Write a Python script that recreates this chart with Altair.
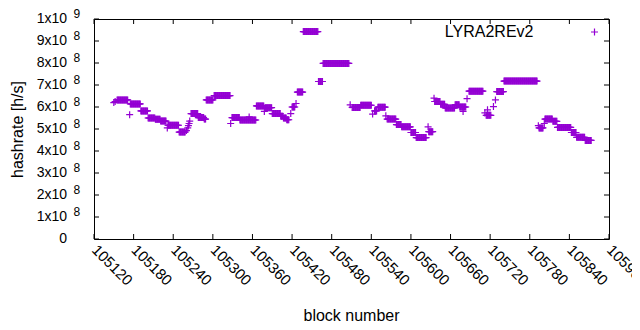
import altair as alt
import pandas as pd

# runs of constant hashrate (block start, block end, value in units of 1e8 h/s)
seg_start = [105150, 105152, 105155, 105174, 105175, 105191, 105202, 105213, 105221, 105231,
             105232, 105249, 105260, 105262, 105263, 105264, 105265, 105267, 105278, 105287,
             105290, 105302, 105327, 105329, 105341, 105355, 105366, 105378, 105379, 105390,
             105403, 105407, 105412, 105418, 105420, 105426, 105428, 105437, 105460, 105467,
             105508, 105511, 105524, 105542, 105545, 105550, 105562, 105564, 105578, 105586,
             105600, 105608, 105626, 105627, 105635, 105636, 105645, 105652, 105667, 105674,
             105679, 105685, 105688, 105712, 105716, 105714, 105725, 105728, 105730, 105741,
             105793, 105794, 105802, 105803, 105815, 105822, 105843, 105851, 105864]
seg_end = [105150, 105152, 105171, 105174, 105190, 105201, 105212, 105220, 105229, 105231,
           105248, 105258, 105260, 105262, 105263, 105264, 105265, 105277, 105286, 105289,
           105300, 105326, 105327, 105340, 105365, 105355, 105377, 105378, 105389, 105402,
           105406, 105411, 105415, 105418, 105424, 105426, 105436, 105459, 105466, 105506,
           105508, 105523, 105540, 105542, 105548, 105561, 105562, 105577, 105585, 105599,
           105607, 105623, 105626, 105633, 105635, 105644, 105651, 105666, 105673, 105683,
           105679, 105685, 105709, 105712, 105716, 105721, 105725, 105728, 105740, 105791,
           105793, 105800, 105802, 105814, 105821, 105842, 105850, 105863, 105873]
seg_val = [6.20, 6.25, 6.32, 5.65, 6.14, 5.82, 5.50, 5.44, 5.36, 5.05,
           5.17, 4.86, 4.93, 5.05, 5.15, 5.25, 5.36, 5.70, 5.52, 5.45,
           6.32, 6.52, 5.25, 5.52, 5.41, 5.55, 6.05, 5.80, 5.97, 5.70,
           5.58, 5.50, 5.42, 5.70, 6.00, 6.16, 6.68, 9.43, 7.16, 7.98,
           6.10, 5.98, 6.08, 5.68, 5.82, 5.99, 5.60, 5.45, 5.20, 5.10,
           4.84, 4.61, 5.10, 4.88, 6.40, 6.25, 6.12, 5.96, 6.10, 6.00,
           5.80, 6.38, 6.72, 5.73, 5.87, 5.62, 6.02, 6.32, 6.70, 7.18,
           5.15, 5.05, 5.25, 5.45, 5.35, 5.07, 4.84, 4.62, 4.48]

x_ticks = [105120, 105180, 105240, 105300, 105360, 105420, 105480, 105540,
           105600, 105660, 105720, 105780, 105840, 105900]
y_ticks = [0, 1e8, 2e8, 3e8, 4e8, 5e8, 6e8, 7e8, 8e8, 9e8, 1e9]
y_base = ["0"] + [f"{i}x10" for i in range(1, 10)] + ["1x10"]
y_sup = [""] + ["8"] * 9 + ["9"]

rows = []
for s, e, v in zip(seg_start, seg_end, seg_val):
    for b in range(s, e + 1):
        rows.append({"block": b, "hashrate": v * 1e8})
df = pd.DataFrame(rows)

COLOR = "#9400d3"
FONT = "Liberation Sans"
W, H = 515, 220

xscale = alt.Scale(domain=[105120, 105900], nice=False, zero=False)
yscale = alt.Scale(domain=[0, 1e9], nice=False)

xaxis = alt.Axis(values=x_ticks, labelAngle=45, labelAlign="left",
                 labelBaseline="middle", labelPadding=8, ticks=False,
                 domain=False, grid=False, labelFont=FONT, labelFontSize=15,
                 labelColor="black", format="d", labelOverlap=False,
                 labelBound=False, labelFlush=False, labelSeparation=0,
                 title="block number", titleFont=FONT, titleFontSize=16,
                 titleFontWeight="normal", titleColor="black",
                 titleX=257, titleY=76, titleAlign="center",
                 titleBaseline="middle")
yaxis = alt.Axis(labels=False, ticks=False, domain=False, grid=False,
                 title="hashrate [h/s]", titleFont=FONT, titleFontSize=16,
                 titleFontWeight="normal", titleColor="black",
                 titleX=-77, titleY=110, titleAlign="center",
                 titleBaseline="middle")

plus = "M-1,0H1M0,-1V1"

points = alt.Chart(df).mark_point(
    shape=plus, size=49, filled=False, strokeWidth=1.2, color=COLOR, opacity=1
).encode(
    x=alt.X("block:Q", scale=xscale, axis=xaxis, title="block number"),
    y=alt.Y("hashrate:Q", scale=yscale, axis=yaxis, title="hashrate [h/s]"),
)

xt = pd.DataFrame({"t": x_ticks})
yt = pd.DataFrame({"v": y_ticks, "base": y_base, "sup": y_sup})

xtick_bot = alt.Chart(xt).mark_rule(color="black", strokeWidth=1).encode(
    x=alt.X("t:Q", scale=xscale, axis=xaxis, title="block number"),
    y=alt.value(H), y2=alt.value(H - 5))
xtick_top = alt.Chart(xt).mark_rule(color="black", strokeWidth=1).encode(
    x=alt.X("t:Q", scale=xscale, axis=xaxis, title="block number"),
    y=alt.value(0), y2=alt.value(5))
ytick_left = alt.Chart(yt).mark_rule(color="black", strokeWidth=1).encode(
    y=alt.Y("v:Q", scale=yscale, axis=yaxis, title="hashrate [h/s]"),
    x=alt.value(0), x2=alt.value(5))
ytick_right = alt.Chart(yt).mark_rule(color="black", strokeWidth=1).encode(
    y=alt.Y("v:Q", scale=yscale, axis=yaxis, title="hashrate [h/s]"),
    x=alt.value(W), x2=alt.value(W - 5))

ylab_base = alt.Chart(yt).mark_text(
    align="right", baseline="middle", font=FONT, fontSize=14, color="black"
).encode(y=alt.Y("v:Q", scale=yscale, axis=yaxis, title="hashrate [h/s]"),
         x=alt.value(-27), text="base:N")
ylab_sup = alt.Chart(yt).mark_text(
    align="left", baseline="middle", font=FONT, fontSize=12, color="black", dy=-5
).encode(y=alt.Y("v:Q", scale=yscale, axis=yaxis, title="hashrate [h/s]"),
         x=alt.value(-20.5), text="sup:N")

leg_df = pd.DataFrame({"name": ["LYRA2REv2"]})
leg_text = alt.Chart(leg_df).mark_text(
    align="right", baseline="middle", font=FONT, fontSize=16, color="black"
).encode(x=alt.value(439.5), y=alt.value(13), text="name:N")
leg_sym = alt.Chart(leg_df).mark_point(
    shape=plus, size=49, filled=False, strokeWidth=1.2, color=COLOR, opacity=1
).encode(x=alt.value(500.5), y=alt.value(13))

chart = alt.layer(
    points, xtick_bot, xtick_top, ytick_left, ytick_right,
    ylab_base, ylab_sup, leg_text, leg_sym
).properties(
    width=W, height=H,
    autosize=alt.AutoSizeParams(type="none"),
    padding={"left": 86, "top": 11, "right": 23, "bottom": 83},
    background="white",
).configure_view(stroke="black", strokeWidth=1)

chart.save("out.html", embed_options={"renderer": "svg", "actions": False})
